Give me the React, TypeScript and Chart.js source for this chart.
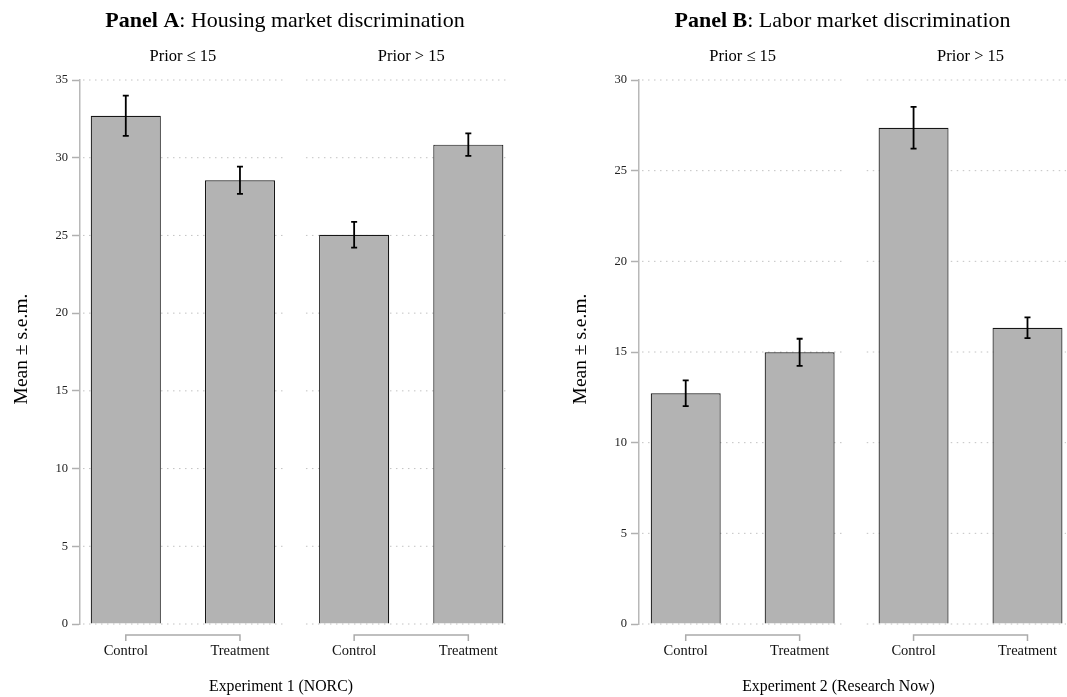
import React, { useEffect, useRef } from 'react';
import { Chart, registerables } from 'chart.js';

Chart.register(...registerables);

// ---------- data ----------
const xLabels = ['Control', 'Treatment', 'Control', 'Treatment'];
const groupLabels = ['Prior ≤ 15', 'Prior > 15'];

const housingMeans = [32.7, 28.55, 25.04, 30.84];
const housingSem = [1.29, 0.88, 0.83, 0.72];
const housingYMax = 35;

const laborMeans = [12.72, 14.98, 27.37, 16.34];
const laborSem = [0.71, 0.75, 1.15, 0.57];
const laborYMax = 30;

const yStep = 5;

const panelTitlesBold = ['Panel A', 'Panel B'];
const panelTitlesRest = [': Housing market discrimination', ': Labor market discrimination'];
const xTitles = ['Experiment 1 (NORC)', 'Experiment 2 (Research Now)'];
const yTitle = 'Mean ± s.e.m.';

// ---------- styling ----------
const FONT = "'Liberation Serif', 'Times New Roman', Times, serif";

type PanelCfg = {
  means: number[];
  sem: number[];
  yMax: number;
  titleBold: string;
  titleRest: string;
  xTitle: string;
  xMin: number;
  xMax: number;
  gapStart: number;
  gapEnd: number;
  axisX: number;
  padRight: number;
  left: number;
  width: number;
};

function makeDecor(cfg: PanelCfg) {
  return {
    id: 'decor',
    beforeDatasetsDraw(chart: any) {
      const { ctx, chartArea: ca, scales } = chart;
      const x = scales.x;
      const y = scales.y;
      const g1 = x.getPixelForValue(cfg.gapStart);
      const g2 = x.getPixelForValue(cfg.gapEnd);
      ctx.save();
      ctx.strokeStyle = '#c2c2c2';
      ctx.lineWidth = 1;
      ctx.setLineDash([1.5, 4.5]);
      y.ticks.forEach((t: any) => {
        const py = y.getPixelForValue(t.value);
        ctx.beginPath();
        ctx.moveTo(ca.left + 3, py);
        ctx.lineTo(g1, py);
        ctx.moveTo(g2, py);
        ctx.lineTo(ca.right, py);
        ctx.stroke();
      });
      ctx.restore();
    },
    afterDatasetsDraw(chart: any) {
      const { ctx, scales } = chart;
      const y = scales.y;
      const meta = chart.getDatasetMeta(0);
      ctx.save();
      ctx.strokeStyle = '#000';
      ctx.lineWidth = 1.8;
      ctx.setLineDash([]);
      meta.data.forEach((el: any, i: number) => {
        const px = el.x;
        const top = y.getPixelForValue(cfg.means[i] + cfg.sem[i]);
        const bot = y.getPixelForValue(cfg.means[i] - cfg.sem[i]);
        ctx.beginPath();
        ctx.moveTo(px, top);
        ctx.lineTo(px, bot);
        ctx.moveTo(px - 3, top);
        ctx.lineTo(px + 3, top);
        ctx.moveTo(px - 3, bot);
        ctx.lineTo(px + 3, bot);
        ctx.stroke();
      });
      ctx.restore();
    },
    afterDraw(chart: any) {
      const { ctx, chartArea: ca, scales } = chart;
      const x = scales.x;
      const cx = (ca.left + ca.right) / 2;
      ctx.save();
      // brackets under each group
      ctx.strokeStyle = '#ababab';
      ctx.lineWidth = 1.5;
      ctx.setLineDash([]);
      const by = ca.bottom + 11;
      for (let g = 0; g < groupLabels.length; g++) {
        const a = x.getPixelForValue(2 * g);
        const b = x.getPixelForValue(2 * g + 1);
        ctx.beginPath();
        ctx.moveTo(a, by + 6);
        ctx.lineTo(a, by);
        ctx.lineTo(b, by);
        ctx.lineTo(b, by + 6);
        ctx.stroke();
      }
      ctx.fillStyle = '#000';
      // group labels
      ctx.font = `16.5px ${FONT}`;
      ctx.textAlign = 'center';
      ctx.textBaseline = 'alphabetic';
      groupLabels.forEach((lab, g) => {
        const a = x.getPixelForValue(2 * g);
        const b = x.getPixelForValue(2 * g + 1);
        ctx.fillText(lab, (a + b) / 2, 61);
      });
      // panel title (bold prefix + regular rest)
      const tSize = 22;
      ctx.font = `bold ${tSize}px ${FONT}`;
      const wb = ctx.measureText(cfg.titleBold).width;
      ctx.font = `${tSize}px ${FONT}`;
      const wr = ctx.measureText(cfg.titleRest).width;
      const tx = cx - 10 - (wb + wr) / 2;
      ctx.textAlign = 'left';
      ctx.font = `bold ${tSize}px ${FONT}`;
      ctx.fillText(cfg.titleBold, tx, 27);
      ctx.font = `${tSize}px ${FONT}`;
      ctx.fillText(cfg.titleRest, tx + wb, 27);
      // x title
      ctx.textAlign = 'center';
      ctx.font = `15.8px ${FONT}`;
      ctx.fillText(cfg.xTitle, cx - 14, 691);
      // y title
      ctx.save();
      ctx.translate(ca.left - 53, (ca.top + ca.bottom) / 2 - 3);
      ctx.rotate(-Math.PI / 2);
      ctx.font = `19.5px ${FONT}`;
      ctx.textAlign = 'center';
      ctx.fillText(yTitle, 0, 0);
      ctx.restore();
      ctx.restore();
    },
  };
}

function Panel({ cfg }: { cfg: PanelCfg }) {
  const ref = useRef<HTMLCanvasElement>(null);
  useEffect(() => {
    if (!ref.current) return;
    const chart = new Chart(ref.current, {
      type: 'bar',
      data: {
        datasets: [
          {
            data: cfg.means.map((m, i) => ({ x: i, y: m })) as any,
            backgroundColor: '#b3b3b3',
            borderColor: '#161616',
            borderWidth: 1.2,
            barPercentage: 0.614,
            categoryPercentage: 1,
          },
        ],
      },
      options: {
        responsive: false,
        animation: false,
        devicePixelRatio: 1,
        layout: { padding: { top: 80, right: cfg.padRight, bottom: 0, left: 0 } },
        plugins: {
          legend: { display: false },
          tooltip: { enabled: false },
          title: { display: false },
        },
        scales: {
          x: {
            type: 'linear',
            offset: false,
            min: cfg.xMin,
            max: cfg.xMax,
            grid: { display: false, drawTicks: false, offset: false },
            border: { display: false },
            afterBuildTicks: (s: any) => {
              s.ticks = xLabels.map((_, i) => ({ value: i }));
            },
            afterFit: (s: any) => {
              s.height = 73;
              s.paddingLeft = 0;
              s.paddingRight = 0;
            },
            ticks: {
              autoSkip: false,
              maxRotation: 0,
              minRotation: 0,
              padding: 18,
              color: '#111',
              font: { family: FONT, size: 14.5 },
              callback: (v: any) => xLabels[Math.round(Number(v))] ?? '',
            },
          } as any,
          y: {
            min: 0,
            max: cfg.yMax,
            afterFit: (s: any) => {
              s.width = cfg.axisX;
            },
            ticks: {
              stepSize: yStep,
              padding: 4,
              color: '#222',
              font: { family: FONT, size: 12.5 },
            },
            grid: {
              drawOnChartArea: false,
              drawTicks: true,
              tickLength: 8,
              tickColor: '#b0b0b0',
              tickWidth: 1.5,
            },
            border: { display: true, color: '#b8b8b8', width: 1.5 },
          } as any,
        },
      },
      plugins: [makeDecor(cfg) as any],
    });
    return () => chart.destroy();
  }, [cfg]);
  return (
    <canvas
      ref={ref}
      width={cfg.width}
      height={697}
      style={{ position: 'absolute', left: cfg.left, top: 0, width: cfg.width, height: 697 }}
    />
  );
}

const panelA: PanelCfg = {
  means: housingMeans,
  sem: housingSem,
  yMax: housingYMax,
  titleBold: panelTitlesBold[0],
  titleRest: panelTitlesRest[0],
  xTitle: xTitles[0],
  xMin: -0.401,
  xMax: 3.365,
  gapStart: 1.386,
  gapEnd: 1.578,
  axisX: 80,
  padRight: 30,
  left: 0,
  width: 540,
};

const panelB: PanelCfg = {
  means: laborMeans,
  sem: laborSem,
  yMax: laborYMax,
  titleBold: panelTitlesBold[1],
  titleRest: panelTitlesRest[1],
  xTitle: xTitles[1],
  xMin: -0.41,
  xMax: 3.338,
  gapStart: 1.378,
  gapEnd: 1.589,
  axisX: 99,
  padRight: 1,
  left: 540,
  width: 527,
};

export default function App() {
  return (
    <div
      style={{
        position: 'fixed',
        left: 0,
        top: 0,
        width: 1067,
        height: 697,
        background: '#fff',
        overflow: 'hidden',
      }}
    >
      <Panel cfg={panelA} />
      <Panel cfg={panelB} />
    </div>
  );
}
